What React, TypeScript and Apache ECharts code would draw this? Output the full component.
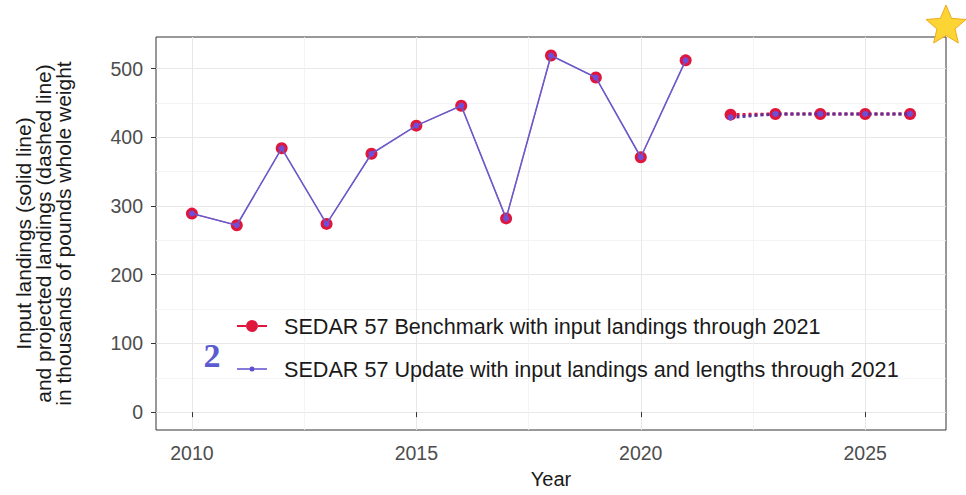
import React, { useEffect, useRef } from "react";
import * as echarts from "echarts";

const years = [2010, 2011, 2012, 2013, 2014, 2015, 2016, 2017, 2018, 2019, 2020, 2021];
const benchmarkLandings = [289, 272, 384, 274, 376, 417, 446, 282, 519, 487, 371, 512];
const updateLandings = [289, 272, 384, 274, 376, 417, 446, 282, 519, 487, 371, 512];
const projYears = [2022, 2023, 2024, 2025, 2026];
const benchmarkProjected = [433, 434, 434, 434, 434];
const updateProjected = [429, 434, 434, 434, 434];
const xMajorTicks = [2010, 2015, 2020, 2025];
const xMinorTicks = [2012.5, 2017.5, 2022.5];
const yMajorTicks = [0, 100, 200, 300, 400, 500];
const yMinorTicks = [50, 150, 250, 350, 450];

const BENCH = "SEDAR 57 Benchmark with input landings through 2021";
const UPD = "SEDAR 57 Update with input landings and lengths through 2021";

const RED = "#e0173c";
const BLUE = "#6a5acd";
const FONT = '"Liberation Sans", Arial, sans-serif';

function starPoints(cx: number, cy: number, R: number, r: number) {
  const pts: number[][] = [];
  for (let i = 0; i < 10; i++) {
    const rad = i % 2 === 0 ? R : r;
    const a = -Math.PI / 2 + (i * Math.PI) / 5;
    pts.push([cx + rad * Math.cos(a), cy + rad * Math.sin(a)]);
  }
  return pts;
}

export default function App() {
  const ref = useRef<HTMLDivElement>(null);
  useEffect(() => {
    if (!ref.current) return;
    const chart = echarts.init(ref.current, null, { renderer: "svg" });
    const pair = (xs: number[], ys: number[]) => xs.map((x, i) => [x, ys[i]]);
    const gridLine = { lineStyle: { color: "#e8e8e8", width: 1 } };
    const minorLine = { lineStyle: { color: "#f1f1f1", width: 0.8 } };
    const option: any = {
      animation: false,
      backgroundColor: "#ffffff",
      textStyle: { fontFamily: FONT },
      grid: {
        left: 156,
        top: 37,
        width: 790,
        height: 393,
        show: true,
        borderColor: "#333333",
        borderWidth: 1,
        backgroundColor: "transparent",
      },
      xAxis: [
        {
          type: "value",
          min: 2009.2,
          max: 2026.8,
          name: "Year",
          nameLocation: "middle",
          nameGap: 39,
          nameTextStyle: { fontSize: 20, color: "#1a1a1a", fontFamily: FONT },
          axisLine: { show: false },
          axisTick: { show: true, length: 5, customValues: xMajorTicks, lineStyle: { color: "#333333" } },
          axisLabel: {
            customValues: xMajorTicks,
            margin: 13,
            fontSize: 19.5,
            color: "#4d4d4d",
            fontFamily: FONT,
            formatter: (v: number) => String(v),
          },
          splitLine: { show: true, ...gridLine },
          z: 1,
        },
        {
          type: "value",
          min: 2009.2,
          max: 2026.8,
          axisLine: { show: false },
          axisTick: { show: false, customValues: xMinorTicks },
          axisLabel: { show: false, customValues: xMinorTicks },
          splitLine: { show: true, ...minorLine },
        },
      ],
      yAxis: [
        {
          type: "value",
          min: -26,
          max: 546,
          name: "Input landings (solid line)\nand projected landings (dashed line)\nin thousands of pounds whole weight",
          nameLocation: "middle",
          nameGap: 83,
          nameRotate: 90,
          nameTextStyle: { fontSize: 21, lineHeight: 20, color: "#1a1a1a", fontFamily: FONT, align: "center" },
          axisLine: { show: false },
          axisTick: { show: true, length: 5, customValues: yMajorTicks, lineStyle: { color: "#333333" } },
          axisLabel: {
            customValues: yMajorTicks,
            margin: 13,
            fontSize: 19.5,
            color: "#4d4d4d",
            fontFamily: FONT,
            formatter: (v: number) => String(v),
          },
          splitLine: { show: true, ...gridLine },
        },
        {
          type: "value",
          min: -26,
          max: 546,
          axisLine: { show: false },
          axisTick: { show: false, customValues: yMinorTicks },
          axisLabel: { show: false, customValues: yMinorTicks },
          splitLine: { show: true, ...minorLine },
        },
      ],
      legend: {
        orient: "vertical",
        left: 237,
        top: 315,
        padding: 0,
        itemGap: 21,
        itemWidth: 30,
        itemHeight: 12,
        selectedMode: false,
        textStyle: { fontSize: 21.6, lineHeight: 21, color: "#1a1a1a", fontFamily: FONT, padding: [0, 0, 0, 12] },
        data: [
          {
            name: BENCH,
            icon: "path://M0,5L9,5L9,7L0,7Z M21,5L30,5L30,7L21,7Z M9,6A6,6 0 1,0 21,6A6,6 0 1,0 9,6Z",
            itemStyle: { color: RED },
          },
          {
            name: UPD,
            icon: "path://M0,5.3L12.5,5.3L12.5,6.7L0,6.7Z M17.5,5.3L30,5.3L30,6.7L17.5,6.7Z M12.5,6A2.5,2.5 0 1,0 17.5,6A2.5,2.5 0 1,0 12.5,6Z",
            itemStyle: { color: "#5f4fd0" },
          },
        ],
      },
      series: [
        {
          name: BENCH,
          type: "line",
          data: pair(years, benchmarkLandings),
          symbol: "circle",
          symbolSize: 12,
          itemStyle: { color: RED },
          lineStyle: { color: RED, width: 0.8 },
          z: 2,
        },
        {
          name: BENCH,
          type: "line",
          data: pair(projYears, benchmarkProjected),
          symbol: "circle",
          symbolSize: 12,
          itemStyle: { color: RED },
          lineStyle: { color: RED, width: 3, type: [3, 3] },
          z: 2,
        },
        {
          name: UPD,
          type: "line",
          data: pair(years, updateLandings),
          symbol: "circle",
          symbolSize: 6,
          itemStyle: { color: "#6f4fd8" },
          lineStyle: { color: BLUE, width: 1.6 },
          z: 3,
        },
        {
          name: UPD,
          type: "line",
          data: pair(projYears, updateProjected),
          symbol: "circle",
          symbolSize: 6,
          itemStyle: { color: "#6f4fd8" },
          lineStyle: { color: "#5e2f9a", width: 3, type: [3, 3] },
          z: 3,
        },
      ],
      graphic: [
        {
          type: "text",
          x: 212,
          y: 355,
          z: 10,
          style: {
            text: "2",
            font: 'bold 34px "Liberation Serif", "DejaVu Serif", serif',
            fill: "#5b5bd0",
            textAlign: "center",
            textVerticalAlign: "middle",
          },
        },
        {
          type: "polygon",
          z: 10,
          shape: { points: starPoints(946, 26, 21, 9.5) },
          style: { fill: "#fcd535", stroke: "#f0a91c", lineWidth: 1 },
        },
      ],
    };
    chart.setOption(option);
    return () => chart.dispose();
  }, []);
  return (
    <div
      ref={ref}
      style={{ position: "fixed", left: 0, top: 0, width: 966, height: 495, background: "#fff" }}
    />
  );
}
